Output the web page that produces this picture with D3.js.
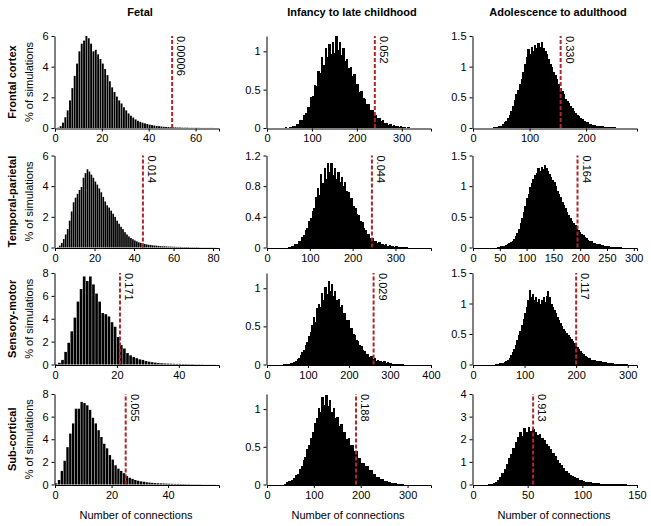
<!DOCTYPE html>
<html><head><meta charset="utf-8">
<script src="https://cdn.jsdelivr.net/npm/d3@7"></script>
<style>body{margin:0;background:#fff}svg{font-family:"Liberation Sans",Arial,sans-serif}</style>
</head><body><svg id="c" width="651" height="526"></svg>
<script>
const columnTitles = ["Fetal", "Infancy to late childhood", "Adolescence to adulthood"];
const rowTitles = ["Frontal cortex", "Temporal-parietal", "Sensory-motor", "Sub-cortical"];
const yTitle = "% of simulations";
const xTitle = "Number of connections";

// histogram values (% of simulations per bin); each with a start value and bin width
const fetalFrontal = [0,0.02,0.12,0.35,0.7,1.15,1.8,2.6,3.4,4.2,5.0,5.5,5.7,6.0,5.85,5.5,5.0,5.1,4.8,4.5,4.2,3.85,3.45,3.05,2.65,2.35,2.05,1.8,1.6,1.35,1.15,0.95,0.8,0.68,0.56,0.47,0.4,0.34,0.3,0.26,0.22,0.19,0.16,0.14,0.12,0.1,0.08,0.07,0.06,0.05,0.04,0.04,0.03,0.03,0.02,0.02,0.02,0.01,0.01,0.01,0.01,0.01,0.005,0.005,0.005,0.005,0.005,0.005];
const fetalTemporal = [0,0.03,0.12,0.3,0.55,0.85,1.2,1.75,2.35,2.95,3.25,3.5,3.75,3.95,4.55,4.85,5.1,4.95,4.75,4.55,4.3,4.1,3.85,3.6,3.3,3.0,2.75,2.6,2.4,2.2,2.0,1.75,1.55,1.35,1.2,1.0,0.85,0.72,0.62,0.54,0.46,0.4,0.34,0.3,0.26,0.23,0.2,0.18,0.16,0.14,0.13,0.12,0.1,0.09,0.08,0.08,0.07,0.06,0.06,0.05,0.05,0.04,0.04,0.04,0.03,0.03,0.03,0.03,0.02,0.02,0.02,0.02,0.02,0.01,0.01,0.01,0.01,0.01,0.01,0.01,0.01,0.005];
const fetalSensory = [0.05,0.15,0.4,1.1,1.9,2.9,4.1,5.5,6.6,7.7,7.3,7.7,7.0,6.2,5.5,4.5,4.4,4.2,3.7,3.3,2.4,1.7,1.4,1.0,0.8,0.65,0.55,0.45,0.4,0.3,0.25,0.2,0.16,0.13,0.11,0.09,0.08,0.07,0.06,0.05,0.05,0.04,0.04,0.03,0.03,0.02,0.02,0.02,0.01,0.01,0.01,0.01];
const fetalSubcortical = [0.1,0.4,1.2,2.1,3.3,4.5,5.4,6.7,6.7,7.3,7.2,7.0,6.6,5.9,5.4,4.8,4.2,3.6,3.2,2.6,2.2,1.7,1.4,1.2,1.0,0.75,0.6,0.5,0.4,0.33,0.28,0.25,0.2,0.17,0.15,0.12,0.11,0.1,0.09,0.08,0.07,0.06,0.05,0.05,0.04,0.04,0.03,0.03,0.02,0.02,0.02,0.02,0.01,0.01,0.01,0.01,0.01];

const infancyFrontal = [0.01,0,0.01,0.01,0.02,0.03,0.05,0.05,0.1,0.11,0.17,0.19,0.28,0.27,0.4,0.42,0.56,0.55,0.74,0.72,0.92,0.82,1.04,0.92,1.1,0.96,1.12,0.98,1.2,1.02,1.12,0.95,1.04,0.88,0.9,0.78,0.8,0.68,0.7,0.57,0.57,0.47,0.48,0.39,0.38,0.31,0.31,0.24,0.23,0.18,0.17,0.13,0.13,0.09,0.1,0.06,0.07,0.04,0.05,0.03,0.04,0.02,0.03,0.01,0.02,0.01,0.01,0.005,0.01,0.005,0.005];
const infancyTemporal = [0.01,0.01,0.02,0.02,0.04,0.05,0.08,0.09,0.14,0.16,0.23,0.26,0.35,0.38,0.48,0.52,0.66,0.78,0.68,0.96,0.84,1.04,0.9,1.1,0.98,1.1,0.94,1.04,0.9,0.99,0.86,0.92,0.8,0.86,0.74,0.73,0.64,0.64,0.54,0.52,0.44,0.42,0.34,0.33,0.25,0.23,0.17,0.17,0.12,0.12,0.08,0.09,0.06,0.07,0.04,0.05,0.03,0.04,0.02,0.03,0.02,0.02,0.01,0.02,0.01,0.01,0.01,0.005,0.005,0.005];
const infancySensory = [0.005,0.01,0.01,0.01,0.02,0.02,0.03,0.05,0.07,0.09,0.12,0.17,0.19,0.26,0.29,0.38,0.42,0.52,0.62,0.56,0.74,0.8,0.76,0.94,0.84,1.02,0.92,1.1,0.96,1.05,0.9,0.97,0.84,0.86,0.76,0.78,0.68,0.68,0.58,0.58,0.48,0.48,0.4,0.39,0.32,0.31,0.25,0.24,0.19,0.18,0.14,0.14,0.1,0.11,0.07,0.08,0.05,0.06,0.04,0.05,0.03,0.04,0.02,0.03,0.02,0.02,0.01,0.01,0.01,0.01,0.005,0.005,0.005];
const infancySubcortical = [0.01,0.03,0.05,0.04,0.06,0.08,0.12,0.14,0.21,0.24,0.32,0.36,0.47,0.53,0.62,0.7,0.82,0.88,1.02,0.96,1.16,1.06,1.19,1.04,1.12,0.96,1.02,0.88,0.9,0.78,0.8,0.7,0.7,0.6,0.62,0.53,0.52,0.44,0.44,0.35,0.35,0.29,0.29,0.24,0.24,0.19,0.19,0.14,0.14,0.1,0.1,0.07,0.07,0.05,0.05,0.03,0.03,0.025,0.02,0.015,0.01,0.01,0.005,0.005];

const adultFrontal = [0.01,0.01,0.02,0.03,0.04,0.06,0.09,0.12,0.16,0.22,0.28,0.36,0.45,0.55,0.62,0.72,0.8,0.92,1.05,1.15,1.28,1.2,1.32,1.25,1.35,1.3,1.38,1.32,1.4,1.3,1.25,1.2,1.12,1.05,1.0,0.92,0.86,0.8,0.72,0.66,0.6,0.55,0.48,0.44,0.4,0.36,0.32,0.28,0.25,0.22,0.19,0.17,0.14,0.12,0.1,0.09,0.07,0.06,0.05,0.05,0.04,0.04,0.03,0.03,0.03,0.02,0.02,0.02,0.01,0.01,0.01,0.01,0.005,0.005];
const adultTemporal = [0.01,0.01,0.02,0.02,0.03,0.04,0.05,0.07,0.09,0.11,0.14,0.18,0.24,0.3,0.4,0.48,0.58,0.68,0.8,0.88,0.98,1.05,1.12,1.18,1.22,1.3,1.25,1.32,1.28,1.35,1.3,1.25,1.2,1.15,1.1,1.06,1.0,0.92,0.88,0.82,0.75,0.7,0.64,0.58,0.53,0.48,0.44,0.4,0.37,0.33,0.29,0.26,0.22,0.2,0.17,0.15,0.13,0.11,0.1,0.08,0.07,0.06,0.05,0.05,0.04,0.035,0.03,0.025,0.02,0.02,0.015,0.01,0.01,0.01,0.005,0.005,0.005];
const adultSensory = [0.005,0.01,0.01,0.02,0.02,0.03,0.04,0.06,0.08,0.11,0.15,0.2,0.25,0.32,0.4,0.48,0.55,0.65,0.75,0.85,0.95,1.05,1.22,1.1,1.15,1.05,1.1,1.02,1.08,1.0,1.06,1.1,1.02,1.12,1.2,1.1,1.0,0.95,0.9,0.84,0.78,0.73,0.68,0.63,0.59,0.55,0.51,0.48,0.45,0.42,0.38,0.35,0.32,0.28,0.25,0.22,0.19,0.17,0.14,0.12,0.11,0.1,0.08,0.08,0.07,0.06,0.06,0.05,0.05,0.04,0.04,0.035,0.03,0.03,0.025,0.02,0.02,0.015,0.015,0.01,0.01,0.01,0.01,0.005,0.005,0.005];
const adultSubcortical = [0.02,0.04,0.07,0.12,0.22,0.35,0.5,0.7,0.9,1.15,1.35,1.6,1.9,2.1,2.3,2.15,2.5,2.3,2.55,2.35,2.45,2.3,2.2,2.25,2.05,1.95,1.8,1.7,1.55,1.4,1.25,1.1,0.95,0.85,0.72,0.6,0.52,0.44,0.38,0.32,0.27,0.22,0.18,0.15,0.13,0.11,0.09,0.08,0.07,0.06,0.05,0.04,0.035,0.03,0.025,0.02,0.015,0.015,0.01,0.01,0.01,0.005,0.005];

const histValues = [
  [fetalFrontal, infancyFrontal, adultFrontal],
  [fetalTemporal, infancyTemporal, adultTemporal],
  [fetalSensory, infancySensory, adultSensory],
  [fetalSubcortical, infancySubcortical, adultSubcortical]
];
const binStart = [[0,40,36],[0,48,45],[0,40,42],[0,36,14]];
const binWidth = [[1,4,3],[1,4,3],[1,4,3],[1,4,2]];
const xMax = [[70,365,290],[83,383,306],[53,400,318],[58,350,150]];
const xTicks = [
  [[0,20,40,60],[0,100,200,300],[0,100,200]],
  [[0,20,40,60,80],[0,100,200,300],[0,50,100,150,200,250,300]],
  [[0,20,40],[0,100,200,300,400],[0,100,200,300]],
  [[0,20,40],[0,100,200,300],[0,50,100,150]]
];
const yMax = [[6,1.2,1.5],[6,1.2,1.5],[8,1.2,1.5],[8,1.2,4]];
const yTicks = [
  [[0,2,4,6],[0,0.5,1],[0,0.5,1,1.5]],
  [[0,2,4,6],[0,0.4,0.8,1.2],[0,0.5,1,1.5]],
  [[0,2,4,6,8],[0,0.5,1],[0,0.5,1,1.5]],
  [[0,2,4,6,8],[0,0.5,1],[0,1,2,3,4]]
];
const observed = [[50,240,155],[44.5,245,195],[21,260,200],[25,190,55]];
const pValues = [["0.00006","0.052","0.330"],["0.014","0.044","0.164"],["0.171","0.029","0.117"],["0.055","0.188","0.913"]];

const svg = d3.select("#c");
const colX0 = [55, 267, 473], colX1 = [219, 431, 637];
const rowTop = [36, 155.5, 273, 394], rowBase = [128, 247.5, 364.5, 484.5];
const FS = 11;

columnTitles.forEach((t, c) => {
  svg.append("text").attr("x", (colX0[c] + colX1[c]) / 2 + 3).attr("y", 16)
    .attr("text-anchor", "middle").attr("font-weight", "bold").attr("font-size", FS).text(t);
  svg.append("text").attr("x", (colX0[c] + colX1[c]) / 2 - 1).attr("y", 519)
    .attr("text-anchor", "middle").attr("font-size", FS).text(xTitle);
});
rowTitles.forEach((t, r) => {
  const cy = (rowTop[r] + rowBase[r]) / 2;
  svg.append("text").attr("transform", `translate(16,${cy}) rotate(-90)`)
    .attr("text-anchor", "middle").attr("font-weight", "bold").attr("font-size", FS).text(t);
  svg.append("text").attr("transform", `translate(33,${cy}) rotate(-90)`)
    .attr("text-anchor", "middle").attr("font-size", FS).text(yTitle);
});

for (let r = 0; r < 4; r++) {
  for (let c = 0; c < 3; c++) {
    const x = d3.scaleLinear().domain([0, xMax[r][c]]).range([colX0[c], colX1[c]]);
    const y = d3.scaleLinear().domain([0, yMax[r][c]]).range([rowBase[r], rowTop[r]]);
    const vals = histValues[r][c], s0 = binStart[r][c], bw = binWidth[r][c];
    const dense = bw > 1;
    const g = svg.append("g").attr("shape-rendering", dense ? "crispEdges" : "auto");
    const px = x(bw) - x(0);
    const w = dense ? px + 0.6 : px - (px < 2.2 ? 0.3 : 0.45);
    g.selectAll("rect").data(vals).join("rect")
      .attr("x", (d, i) => x(s0 + i * bw))
      .attr("width", w)
      .attr("y", d => y(d))
      .attr("height", d => y(0) - y(d))
      .attr("fill", "#000");
    const xa = svg.append("g").attr("transform", `translate(0,${rowBase[r] + 0.5})`)
      .call(d3.axisBottom(x).tickValues(xTicks[r][c]).tickSize(3).tickSizeOuter(3).tickPadding(3).tickFormat(d => d));
    const ya = svg.append("g").attr("transform", `translate(${colX0[c] - 0.5},0)`)
      .call(d3.axisLeft(y).tickValues(yTicks[r][c]).tickSize(3).tickSizeOuter(0).tickPadding(3).tickFormat(d => d));
    [xa, ya].forEach(a => { a.selectAll("text").attr("font-size", FS).attr("fill", "#000").attr("font-family", "Liberation Sans, Arial, sans-serif"); a.selectAll("path,line").attr("stroke", "#000"); });
    const lx = x(observed[r][c]);
    svg.append("line").attr("x1", lx).attr("x2", lx).attr("y1", rowBase[r]).attr("y2", rowTop[r])
      .attr("stroke", "#b0262b").attr("stroke-width", 2).attr("stroke-dasharray", "4,2");
    svg.append("text").attr("transform", `translate(${lx + 5},${rowTop[r]}) rotate(90)`)
      .attr("font-size", FS).attr("text-anchor", "start").text(pValues[r][c]);
  }
}
</script></body></html>
